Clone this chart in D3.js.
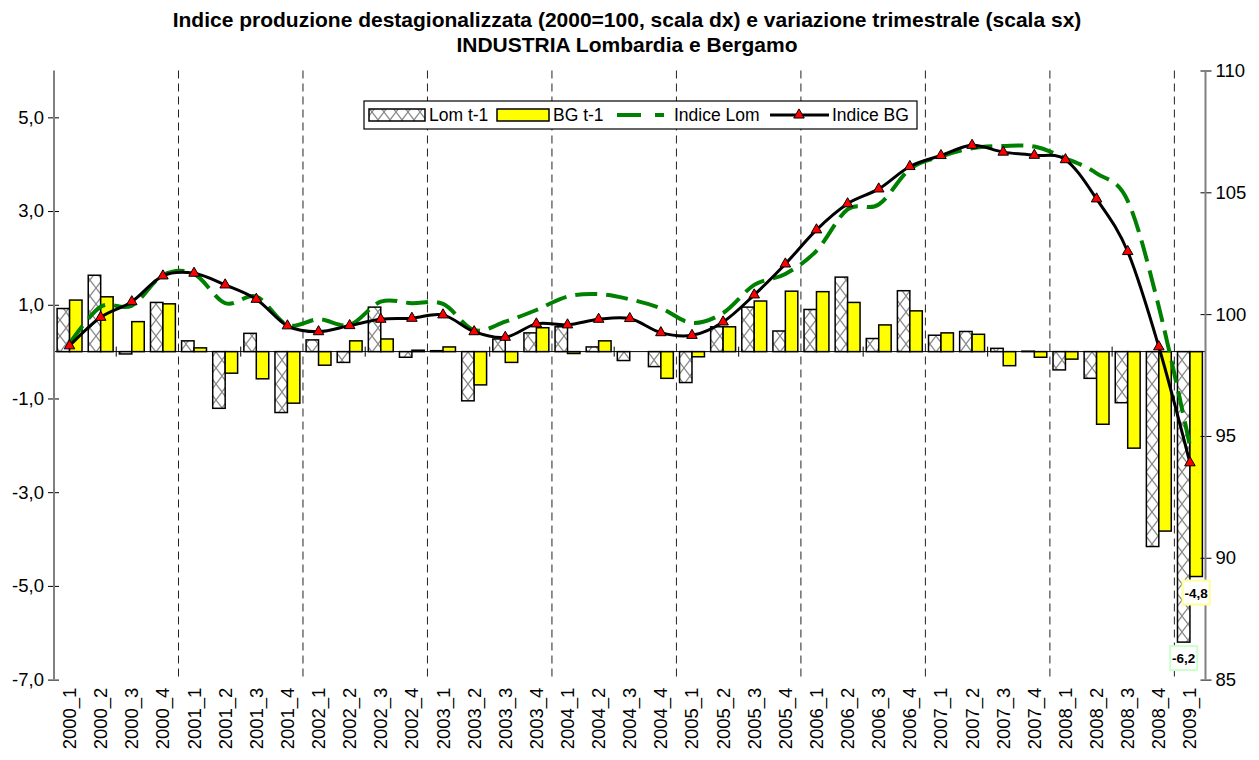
<!DOCTYPE html>
<html><head><meta charset="utf-8">
<script src="https://cdn.jsdelivr.net/npm/d3@7"></script>
<style>body{margin:0;background:#fff}svg{display:block}text{font-family:"Liberation Sans",Arial,sans-serif}</style>
</head><body>
<svg id="c" width="1259" height="760"></svg>
<script>
const categories = ["2000_1","2000_2","2000_3","2000_4","2001_1","2001_2","2001_3","2001_4","2002_1","2002_2","2002_3","2002_4","2003_1","2003_2","2003_3","2003_4","2004_1","2004_2","2004_3","2004_4","2005_1","2005_2","2005_3","2005_4","2006_1","2006_2","2006_3","2006_4","2007_1","2007_2","2007_3","2007_4","2008_1","2008_2","2008_3","2008_4","2009_1"];
const lomVar = [0.92,1.63,-0.05,1.05,0.23,-1.21,0.39,-1.30,0.25,-0.23,0.95,-0.12,0.02,-1.05,0.27,0.40,0.53,0.10,-0.19,-0.32,-0.66,0.53,0.95,0.44,0.90,1.59,0.28,1.30,0.35,0.43,0.07,0.01,-0.39,-0.57,-1.09,-4.16,-6.2];
const bgVar = [1.10,1.17,0.64,1.02,0.08,-0.46,-0.58,-1.10,-0.29,0.23,0.27,0.03,0.10,-0.71,-0.23,0.51,-0.04,0.23,0.00,-0.57,-0.11,0.53,1.08,1.29,1.28,1.05,0.57,0.87,0.40,0.37,-0.30,-0.12,-0.16,-1.55,-2.06,-3.83,-4.8];
const indiceLom = [98.8,100.3,100.35,101.6,101.65,100.45,100.72,99.56,99.79,99.56,100.51,100.45,100.42,99.35,99.69,100.17,100.72,100.82,100.61,100.24,99.64,100.05,101.2,101.65,102.6,104.3,104.5,105.95,106.47,106.81,106.9,106.88,106.4,105.78,104.65,100.3,94.6];
const indiceBG = [98.7,99.87,100.51,101.57,101.68,101.2,100.61,99.52,99.28,99.53,99.79,99.83,99.97,99.28,99.05,99.6,99.56,99.79,99.82,99.24,99.13,99.68,100.79,102.06,103.46,104.53,105.14,106.06,106.51,106.93,106.65,106.52,106.34,104.73,102.57,98.66,93.9];
const leftTicks = [-7,-5,-3,-1,1,3,5];
const rightTicks = [85,90,95,100,105,110];
const titleLines = ["Indice produzione destagionalizzata (2000=100, scala dx) e variazione trimestrale (scala sx)","INDUSTRIA Lombardia e Bergamo"];
const seriesNames = ["Lom t-1","BG t-1","Indice Lom","Indice BG"];

const svg = d3.select("#c");
const L = 54, R = 1205.5, T = 70.5, B = 679.6;
const x = d3.scaleBand().domain(categories).range([L, R]).padding(0);
const bw = x.bandwidth();
const xs = d3.scaleBand().domain(["Lom","BG"]).range([bw*0.1, bw*0.9]).padding(0);
const yL = d3.scaleLinear().domain([-7, 6]).range([B, T]);
const yR = d3.scaleLinear().domain([85, 110]).range([B, T]);
const fmt = v => d3.format(".1f")(v).replace(".", ",").replace("−","-");

// pattern
const defs = svg.append("defs");
const pat = defs.append("pattern").attr("id","hatch").attr("patternUnits","userSpaceOnUse")
  .attr("width",12).attr("height",16);
pat.append("rect").attr("width",12).attr("height",16).attr("fill","#fff");
pat.append("path").attr("d","M0,0 L6,8 L12,0 M0,16 L6,8 L12,16").attr("stroke","#8a8a8a").attr("stroke-width",1.3).attr("fill","none");

// title
svg.selectAll("text.title").data(titleLines).join("text").attr("class","title")
  .attr("x", 627).attr("y",(d,i)=>27+i*25).attr("text-anchor","middle")
  .attr("font-weight","bold").attr("font-size",21).text(d=>d);

// vertical dashed year separators
const sepIdx = d3.range(4, 37, 4);
svg.selectAll("line.sep").data(sepIdx).join("line").attr("class","sep")
  .attr("x1", i=>x(categories[i])).attr("x2", i=>x(categories[i]))
  .attr("y1", T).attr("y2", B).attr("stroke","#222").attr("stroke-width",1).attr("stroke-dasharray","8,5");

// bars
const rows = categories.map((c,i)=>({c, lom: lomVar[i], bg: bgVar[i]}));
const g = svg.append("g");
rows.forEach(r=>{
  [["Lom", r.lom, "url(#hatch)"],["BG", r.bg, "#ffff00"]].forEach(([k,v,f])=>{
    g.append("rect").attr("x", x(r.c)+xs(k)).attr("width", xs.bandwidth())
      .attr("y", Math.min(yL(v), yL(0))).attr("height", Math.abs(yL(v)-yL(0)))
      .attr("fill", f).attr("stroke","#000").attr("stroke-width",1.5);
  });
});

// zero (category) axis
svg.append("line").attr("x1",L).attr("x2",R).attr("y1",yL(0)).attr("y2",yL(0)).attr("stroke","#000").attr("stroke-width",1);
const zt = d3.range(2, 37, 4);
svg.selectAll("line.zt").data(zt).join("line").attr("class","zt")
  .attr("x1", i=>x(categories[i])).attr("x2", i=>x(categories[i]))
  .attr("y1", yL(0)-5).attr("y2", yL(0)+5).attr("stroke","#000");

// left axis
const axL = svg.append("g").attr("transform",`translate(${L},0)`)
  .call(d3.axisLeft(yL).tickValues(leftTicks).tickFormat(fmt).tickSize(6).tickSizeOuter(0));
axL.select(".domain").remove();
axL.selectAll(".tick line").attr("x2",5).attr("x1",-6).attr("stroke","#000");
axL.selectAll(".tick text").attr("x",-10).attr("font-size",18.5).attr("font-family","Liberation Sans, Arial, sans-serif").attr("fill","#000");
svg.append("line").attr("x1",L).attr("x2",L).attr("y1",T).attr("y2",B).attr("stroke","#808080").attr("stroke-width",2);

// right axis
const axR = svg.append("g").attr("transform",`translate(${R},0)`)
  .call(d3.axisRight(yR).tickValues(rightTicks).tickSize(6).tickSizeOuter(0));
axR.select(".domain").remove();
axR.selectAll(".tick line").attr("x1",-5).attr("x2",6).attr("stroke","#000");
axR.selectAll(".tick text").attr("x",10).attr("font-size",18.5).attr("font-family","Liberation Sans, Arial, sans-serif").attr("fill","#000");
svg.append("line").attr("x1",R).attr("x2",R).attr("y1",T).attr("y2",B).attr("stroke","#808080").attr("stroke-width",2);

// bottom category labels
svg.selectAll("text.xl").data(categories).join("text").attr("class","xl")
  .attr("transform", d=>`translate(${x(d)+bw/2},${B+8}) rotate(-90)`)
  .attr("text-anchor","end").attr("dy","0.35em").attr("font-size",18.5).text(d=>d);

// lines
const cx = (c)=>x(c)+bw/2;
const lineL = d3.line().x((d,i)=>cx(categories[i])).y(d=>yR(d)).curve(d3.curveCardinal.tension(0));
svg.append("path").attr("d", lineL(indiceLom)).attr("fill","none").attr("stroke","#008000")
  .attr("stroke-width",4).attr("stroke-dasharray","22,9");
svg.append("path").attr("d", lineL(indiceBG)).attr("fill","none").attr("stroke","#000").attr("stroke-width",3);
const tri = d3.symbol().type(d3.symbolTriangle).size(48);
svg.selectAll("path.mk").data(indiceBG).join("path").attr("class","mk")
  .attr("transform",(d,i)=>`translate(${cx(categories[i])},${yR(d)})`).attr("d",tri())
  .attr("fill","#ff0000").attr("stroke","#000").attr("stroke-width",1);

// data labels for last category
const last = categories.length-1;
const dl = [
  {k:"BG", v:bgVar[last], border:"#ffff99"},
  {k:"Lom", v:lomVar[last], border:"#ccffcc"}
];
dl.forEach(d=>{
  const cxx = x(categories[last]) + xs(d.k) + xs.bandwidth()/2;
  const top = yL(d.v) + 4;
  svg.append("rect").attr("x",cxx-13.5).attr("y",top).attr("width",27).attr("height",24)
    .attr("fill","#fff").attr("stroke",d.border).attr("stroke-width",2);
  svg.append("text").attr("x",cxx).attr("y",top+17).attr("text-anchor","middle")
    .attr("font-weight","bold").attr("font-size",13.5).text(fmt(d.v));
});

// legend
const lg = svg.append("g");
lg.append("rect").attr("x",364).attr("y",101).attr("width",553).attr("height",28).attr("fill","#fff").attr("stroke","#000").attr("stroke-width",1.2);
const ly = 115;
lg.append("rect").attr("x",369).attr("y",ly-6).attr("width",56).attr("height",12).attr("fill","url(#hatch)").attr("stroke","#000").attr("stroke-width",1.5);
lg.append("text").attr("x",429).attr("y",ly+6).attr("font-size",17.5).text(seriesNames[0]);
lg.append("rect").attr("x",497).attr("y",ly-6).attr("width",52).attr("height",12).attr("fill","#ffff00").attr("stroke","#000").attr("stroke-width",1.5);
lg.append("text").attr("x",553).attr("y",ly+6).attr("font-size",17.5).text(seriesNames[1]);
lg.append("line").attr("x1",617).attr("x2",664).attr("y1",ly).attr("y2",ly).attr("stroke","#008000").attr("stroke-width",4).attr("stroke-dasharray","24,14");
lg.append("text").attr("x",674).attr("y",ly+6).attr("font-size",17.5).text(seriesNames[2]);
lg.append("line").attr("x1",770).attr("x2",829).attr("y1",ly).attr("y2",ly).attr("stroke","#000").attr("stroke-width",3);
lg.append("path").attr("transform",`translate(799,${ly})`).attr("d",tri()).attr("fill","#ff0000").attr("stroke","#000");
lg.append("text").attr("x",832).attr("y",ly+6).attr("font-size",17.5).text(seriesNames[3]);
</script>
</body></html>
